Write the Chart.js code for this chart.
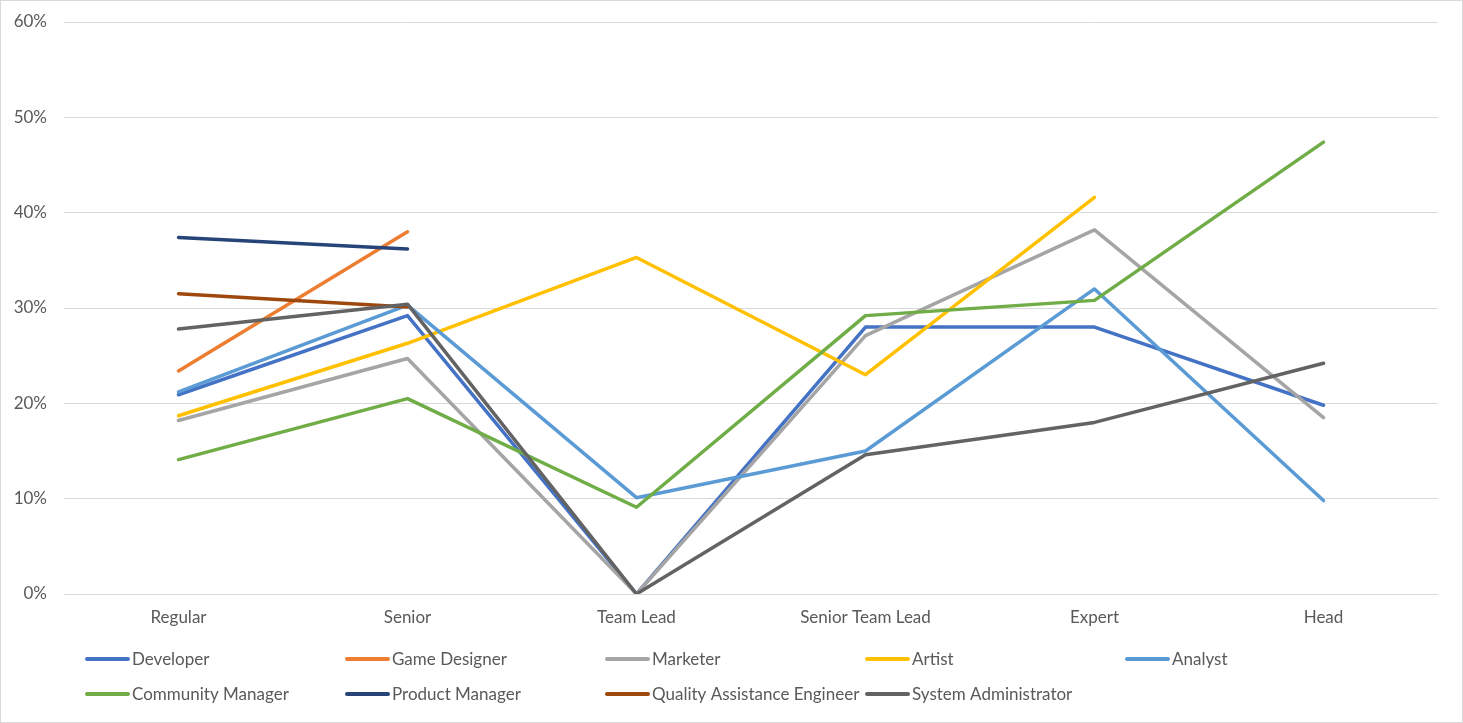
<!DOCTYPE html>
<html>
<head>
<meta charset="utf-8">
<script src="https://cdn.jsdelivr.net/npm/chart.js@4.4.1/dist/chart.umd.min.js"></script>
<style>
  html, body { margin: 0; padding: 0; background: #fff; }
  #wrap { position: relative; width: 1463px; height: 723px; }
</style>
</head>
<body>
<div id="wrap"><canvas id="myChart"></canvas></div>
<script>
const categories = ['Regular', 'Senior', 'Team Lead', 'Senior Team Lead', 'Expert', 'Head'];
const yTicks = [0, 10, 20, 30, 40, 50, 60];

const developer = [20.9, 29.2, 0, 28.0, 28.0, 19.8];
const gameDesigner = [23.4, 38.0, null, null, null, null];
const marketer = [18.2, 24.7, 0, 27.1, 38.2, 18.5];
const artist = [18.7, 26.3, 35.3, 23.0, 41.6, null];
const analyst = [21.2, 30.3, 10.1, 15.0, 32.0, 9.8];
const communityManager = [14.1, 20.5, 9.1, 29.2, 30.8, 47.4];
const productManager = [37.4, 36.2, null, null, null, null];
const qaEngineer = [31.5, 30.1, null, null, null, null];
const sysAdmin = [27.8, 30.4, 0, 14.6, 18.0, 24.2];

const seriesNames = ['Developer', 'Game Designer', 'Marketer', 'Artist', 'Analyst',
  'Community Manager', 'Product Manager', 'Quality Assistance Engineer', 'System Administrator'];
const seriesData = [developer, gameDesigner, marketer, artist, analyst,
  communityManager, productManager, qaEngineer, sysAdmin];
const seriesColors = ['#4472C4', '#ED7D31', '#A5A5A5', '#FFC000', '#5B9BD5',
  '#70AD47', '#264478', '#9E480E', '#636363'];

const FONT = 'Lato, "Open Sans", sans-serif';
const TEXT = '#595959';

const datasets = seriesNames.map((name, i) => ({
  label: name,
  data: seriesData[i],
  borderColor: seriesColors[i],
  backgroundColor: seriesColors[i],
  borderWidth: 3.5,
  borderCapStyle: 'round',
  borderJoinStyle: 'round',
  pointRadius: 0,
  pointHoverRadius: 0,
  tension: 0,
  spanGaps: false,
  // later series on top, like Excel
  order: seriesNames.length - 1 - i,
}));

// white background + thin frame
const framePlugin = {
  id: 'frame',
  beforeDraw(chart) {
    const c = chart.ctx;
    c.save();
    c.fillStyle = '#fff';
    c.fillRect(0, 0, chart.width, chart.height);
    c.strokeStyle = '#d9d9d9';
    c.lineWidth = 1;
    c.strokeRect(0.5, 0.5, chart.width - 1, chart.height - 1);
    c.restore();
  }
};

// legend laid out in fixed columns, two rows
const legendPlugin = {
  id: 'gridLegend',
  afterDraw(chart) {
    const c = chart.ctx;
    c.save();
    c.font = '17px ' + FONT;
    c.textBaseline = 'middle';
    c.fillStyle = TEXT;
    chart.data.datasets.forEach((ds, i) => {
      const col = i % 5, row = Math.floor(i / 5);
      const x = 85 + col * 260;
      const y = 659 + row * 35;
      c.strokeStyle = ds.borderColor;
      c.lineWidth = 4;
      c.lineCap = 'round';
      c.beginPath();
      c.moveTo(x + 2, y);
      c.lineTo(x + 43, y);
      c.stroke();
      c.fillText(ds.label, x + 47, y + 1);
    });
    c.restore();
  }
};

new Chart(document.getElementById('myChart').getContext('2d'), {
  type: 'line',
  data: { labels: categories, datasets: datasets },
  plugins: [framePlugin, legendPlugin],
  options: {
    responsive: true,
    maintainAspectRatio: false,
    animation: false,
    layout: { padding: { top: 22, right: 25, bottom: 0, left: 0 } },
    plugins: {
      legend: { display: false },
      tooltip: { enabled: false },
    },
    scales: {
      x: {
        type: 'category',
        offset: true,
        grid: { display: false, drawTicks: false },
        border: { display: false },
        ticks: { color: TEXT, font: { family: FONT, size: 17 }, padding: 13, maxRotation: 0 },
        afterFit: s => { s.height = 129; },
      },
      y: {
        min: 0,
        max: 60,
        afterBuildTicks: s => { s.ticks = yTicks.map(v => ({ value: v })); },
        grid: { color: '#d9d9d9', lineWidth: 1, drawTicks: false },
        border: { display: false },
        ticks: {
          color: TEXT,
          font: { family: FONT, size: 17 },
          padding: 17,
          callback: v => v + '%',
        },
        afterFit: s => { s.width = 64; s.paddingTop = 0; s.paddingBottom = 0; },
      },
    },
  },
});
</script>
</body>
</html>
